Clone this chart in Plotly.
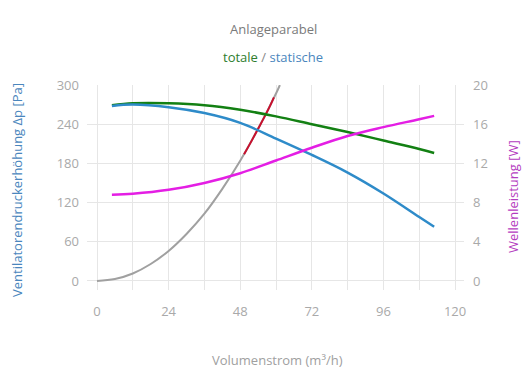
import plotly.graph_objects as go

# Data
flow_static = [5, 12, 24, 36, 48, 60, 72, 84, 96, 108, 113]
p_static = [268, 270, 266, 257, 242, 218, 193, 166, 134, 98, 83]

flow_total = [5, 12, 24, 36, 48, 60, 72, 84, 96, 108, 113]
p_total = [269, 272, 272, 269, 262, 252, 240, 228, 215, 202, 196]

flow_power = [5, 12, 24, 36, 48, 60, 72, 84, 96, 108, 113]
power_w = [8.8, 8.9, 9.3, 10.0, 11.0, 12.3, 13.6, 14.8, 15.7, 16.5, 16.85]

flow_system = [0, 6, 12, 18, 24, 30, 36, 42, 48, 54, 60, 61.3]
p_system = [0, 3, 11.5, 26, 46, 72, 103, 141, 184, 233, 287, 300]

flow_oper = [49.3, 52, 54, 56, 58, 59.3]
p_oper = [194, 216, 233, 250, 268, 281]

x_ticks = [0, 24, 48, 72, 96, 120]
y_ticks = [0, 60, 120, 180, 240, 300]
y2_ticks = [0, 4, 8, 12, 16, 20]

FONT = "Open Sans"
TICK = "#a9a9a9"
GRID = "#e6e6e6"

fig = go.Figure()
fig.add_trace(go.Scatter(x=flow_system, y=p_system, mode="lines",
                         line=dict(color="#a0a0a0", width=2, shape="spline"), hoverinfo="skip"))
fig.add_trace(go.Scatter(x=flow_oper, y=p_oper, mode="lines",
                         line=dict(color="#c8102e", width=2, shape="spline")))
fig.add_trace(go.Scatter(x=flow_total, y=p_total, mode="lines",
                         line=dict(color="#138013", width=2.5, shape="spline")))
fig.add_trace(go.Scatter(x=flow_static, y=p_static, mode="lines",
                         line=dict(color="#2e8bc9", width=2.5, shape="spline")))
fig.add_trace(go.Scatter(x=flow_power, y=power_w, mode="lines", yaxis="y2",
                         line=dict(color="#e41ee4", width=2.5, shape="spline")))

L, R, T, B = 87, 66, 85, 100
fig.update_layout(
    width=530, height=390,
    margin=dict(l=L, r=R, t=T, b=B, autoexpand=False),
    paper_bgcolor="white", plot_bgcolor="white",
    showlegend=False,
    font=dict(family=FONT, size=13, color=TICK),
    xaxis=dict(range=[-3.35, 123.0], tickvals=x_ticks, showgrid=True, gridcolor=GRID,
               minor=dict(dtick=12, tick0=0, showgrid=True, gridcolor=GRID),
               zeroline=False, showline=False, ticks="", ticklabelstandoff=12,
               tickfont=dict(color=TICK, size=13)),
    yaxis=dict(range=[-13.8, 300], tickvals=y_ticks, showgrid=True, gridcolor=GRID,
               zeroline=False, showline=False, ticks="", ticklabelstandoff=7,
               tickfont=dict(color=TICK, size=13)),
    yaxis2=dict(range=[-0.92, 20], tickvals=y2_ticks, overlaying="y", side="right",
                showgrid=False, zeroline=False, showline=False, ticks="", ticklabelstandoff=8,
                tickfont=dict(color=TICK, size=13)),
)

pw, ph = 530 - L - R, 390 - T - B


def px_ann(text, x, y, color=None, angle=0):
    """place annotation by pixel position (top-left origin)"""
    fig.add_annotation(text=text, xref="paper", yref="paper",
                       x=(x - L) / pw, y=(390 - y - B) / ph,
                       xanchor="center", yanchor="middle", showarrow=False,
                       textangle=angle, font=dict(size=13, color=color) if color else dict(size=13))


px_ann("Anlageparabel", 273, 29, "#7a7a7a")
px_ann("<span style='color:#2e7d2e'>totale</span><span style='color:#888'> / </span>"
       "<span style='color:#4a86bd'>statische</span>", 273, 57)
px_ann("Volumenstrom (m³/h)", 277, 360, "#a0a0a0")
px_ann("Ventilatorendruckerhöhung Δp [Pa]", 17, 190, "#4a86bd", -90)
px_ann("Wellenleistung [W]", 513, 197, "#b43cc0", -90)

fig.write_html("out.html",
               config=dict(displayModeBar=False),
               post_script="document.body.style.margin='0';document.body.style.overflow='hidden';")
